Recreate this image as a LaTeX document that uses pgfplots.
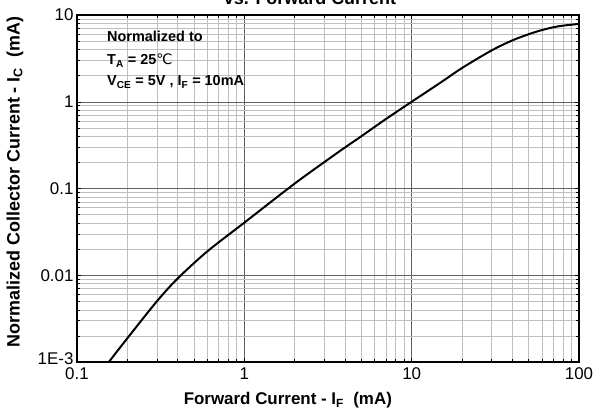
\documentclass[border=0pt]{standalone}
\usepackage{fontspec}
\setmainfont{Liberation Sans}
\newfontfamily\dejavu{DejaVu Sans}
\usepackage{pgfplots}
\pgfplotsset{compat=1.18}
\pgfdeclarelayer{whitebox}
\pgfplotsset{
  layers/boxed/.define layer set={axis background,axis grid,whitebox,axis ticks,main,axis lines,axis tick labels,axis descriptions,axis foreground}{},
}

\begin{document}
\begin{tikzpicture}
\begin{axis}[
  set layers=boxed,
  at={(0,0)}, anchor=south west,
  scale only axis, width=502bp, height=347bp,
  xmode=log, ymode=log,
  xmin=0.1, xmax=100, ymin=1e-3, ymax=10,
  xtick={0.1,1,10,100}, xticklabels={0.1,1,10,100},
  ytick={0.001,0.01,0.1,1,10}, yticklabels={\raisebox{6bp}{1E-3},0.01,0.1,1,10},
  grid=both,
  major grid style={black!62, line width=0.5pt},
  minor grid style={black!25, line width=0.5pt},
  axis line style={line width=1.4pt},
  tick style={black, line width=0.5pt},
  ticklabel style={font=\fontsize{17}{20}\selectfont},
  xticklabel style={yshift=-2bp},
  xlabel={\bfseries Forward Current - I\textsubscript{F}~~(mA)},
  xlabel style={at={(axis description cs:0.42,-0.1239)}, anchor=base, font=\fontsize{17}{20}\selectfont},
  ylabel={\bfseries Normalized Collector Current - I\textsubscript{C}~~(mA)},
  ylabel style={at={(axis description cs:-0.1235,0.519)}, anchor=center, font=\fontsize{18}{21}\selectfont},
]
% white box behind the note, covering the grid only
\begin{pgfonlayer}{whitebox}
\fill[white] (axis cs:0.1,1.135) rectangle (axis cs:1.42,10);
\end{pgfonlayer}

\addplot[black, line width=2pt, smooth] coordinates {
  (0.155,0.001) (0.2,0.00188) (0.3,0.005) (0.4,0.0092) (0.6,0.0188)
  (1,0.0404) (2,0.114) (3.63,0.261) (5,0.40) (7,0.63) (10,1.0)
  (15,1.68) (20,2.45) (30,3.9) (40,5.1) (50,6.0) (60,6.7) (75,7.4) (100,7.9)
};
\end{axis}

\begin{scope}[font=\bfseries\fontsize{14.5}{17}\selectfont]
\node[anchor=base west, inner sep=0] at (30bp,320bp) {Normalized to};
\node[anchor=base west, inner sep=0] at (30bp,297bp) {T\textsubscript{A} = 25{\mdseries\dejavu ℃}};
\node[anchor=base west, inner sep=0] at (30bp,276bp) {V\textsubscript{CE} = 5V , I\textsubscript{F} = 10mA};
\end{scope}

\node[anchor=base, inner sep=0, font=\bfseries\fontsize{18}{21}\selectfont] at (233bp,357bp) {vs. Forward Current};

\pgfresetboundingbox
\useasboundingbox (-77bp,-54bp) rectangle (518bp,362bp);
\end{tikzpicture}
\end{document}
